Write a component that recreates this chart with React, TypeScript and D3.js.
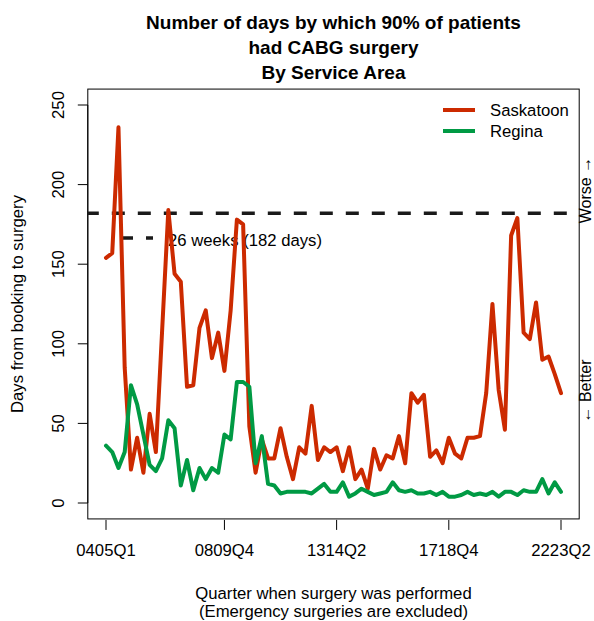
import React, { useEffect, useRef } from 'react';
import * as d3 from 'd3';

// fiscal years 2004/05 .. 2022/23, quarters run up to 2223Q2
const fiscalYears = ['0405', '0506', '0607', '0708', '0809', '0910', '1011', '1112', '1213', '1314',
  '1415', '1516', '1617', '1718', '1819', '1920', '2021', '2122', '2223'];
const quarters = fiscalYears.flatMap(fy => ['Q1', 'Q2', 'Q3', 'Q4'].map(q => fy + q)).slice(0, 74);

const saskatoon = [154, 157, 236, 85, 21, 41, 19, 56, 32, 108,
  184, 144, 139, 73, 74, 110, 121, 91, 107, 83,
  121, 178, 175, 48, 19, 40, 28, 28, 47, 29,
  15, 35, 31, 61, 27, 35, 32, 35, 20, 35,
  15, 21, 9, 34, 21, 30, 28, 42, 25, 69,
  63, 68, 29, 33, 25, 41, 31, 28, 41, 41,
  42, 69, 125, 71, 46, 168, 179, 107, 103, 126,
  90, 92, 81, 69];

const regina = [36, 32, 22, 32, 74, 62, 43, 24, 20, 28,
  52, 47, 11, 27, 8, 22, 15, 22, 19, 43,
  40, 76, 76, 73, 25, 42, 12, 11, 6, 7,
  7, 7, 7, 6, 9, 12, 7, 7, 13, 4,
  6, 9, 7, 5, 6, 7, 13, 8, 7, 8,
  6, 6, 7, 5, 7, 4, 4, 5, 7, 5,
  6, 5, 7, 4, 7, 7, 5, 8, 7, 7,
  15, 6, 13, 7];

const xTickLabels = ['0405Q1', '0809Q4', '1314Q2', '1718Q4', '2223Q2'];
const yTicks = [0, 50, 100, 150, 200, 250];
const target = 182;
const seriesNames = ['Saskatoon', 'Regina'];
const seriesColors = ['#CC2A00', '#009A44'];

const FONT = 'Liberation Sans, Arial, Helvetica, sans-serif';

function App() {
  const ref = useRef<SVGSVGElement>(null);

  useEffect(() => {
    document.body.style.margin = '0';
    drawChart();
  }, []);

  function drawChart() {
    const svg = d3.select(ref.current);
    svg.selectAll('*').remove();

    // scales (R style: 4% padding around data range)
    const x = d3.scalePoint<string>().domain(quarters).range([106, 561]);
    const y = d3.scaleLinear().domain([0, 250]).range([503, 105]);
    const step = x.step();
    const left = x(quarters[0])! - step * 73 * 0.04;
    const right = x(quarters[73])! + step * 73 * 0.04;
    const top = y(260);
    const bottom = y(-10);

    // frame
    svg.append('rect')
      .attr('x', left).attr('y', top)
      .attr('width', right - left).attr('height', bottom - top)
      .attr('fill', 'none').attr('stroke', '#000').attr('stroke-width', 1);

    // y axis
    const ya = svg.append('g');
    ya.append('line')
      .attr('x1', left).attr('x2', left)
      .attr('y1', y(0)).attr('y2', y(250))
      .attr('stroke', '#000');
    yTicks.forEach(t => {
      ya.append('line')
        .attr('x1', left - 10).attr('x2', left)
        .attr('y1', y(t)).attr('y2', y(t))
        .attr('stroke', '#000');
      ya.append('text')
        .attr('transform', `translate(${left - 29},${y(t)}) rotate(-90)`)
        .attr('text-anchor', 'middle')
        .attr('dominant-baseline', 'central')
        .attr('font-family', FONT)
        .attr('font-size', 16.7)
        .text(t);
    });

    // x axis
    const xa = svg.append('g');
    xTickLabels.forEach(lab => {
      xa.append('line')
        .attr('x1', x(lab)!).attr('x2', x(lab)!)
        .attr('y1', bottom + 1).attr('y2', bottom + 11)
        .attr('stroke', '#000');
      xa.append('text')
        .attr('x', x(lab)!).attr('y', 556)
        .attr('text-anchor', 'middle')
        .attr('font-family', FONT)
        .attr('font-size', 16.7)
        .text(lab);
    });

    // target line 26 weeks
    svg.append('line')
      .attr('x1', left).attr('x2', right)
      .attr('y1', y(target)).attr('y2', y(target))
      .attr('stroke', '#1a1a1a')
      .attr('stroke-width', 3.5)
      .attr('stroke-dasharray', '13 13')
      .attr('stroke-dashoffset', 2);

    svg.append('line')
      .attr('x1', 120).attr('x2', 153)
      .attr('y1', 238).attr('y2', 238)
      .attr('stroke', '#1a1a1a')
      .attr('stroke-width', 3.5)
      .attr('stroke-dasharray', '13 13');
    svg.append('text')
      .attr('x', 168).attr('y', 240)
      .attr('dy', '0.35em')
      .attr('font-family', FONT)
      .attr('font-size', 16.7)
      .text('26 weeks (182 days)');

    // series
    const line = d3.line<number>()
      .x((d, i) => x(quarters[i])!)
      .y(d => y(d));

    [saskatoon, regina].forEach((s, k) => {
      svg.append('path')
        .datum(s)
        .attr('fill', 'none')
        .attr('stroke', seriesColors[k])
        .attr('stroke-width', 4)
        .attr('stroke-linejoin', 'round')
        .attr('stroke-linecap', 'round')
        .attr('d', line);
    });

    // legend
    seriesNames.forEach((name, k) => {
      const ly = 110 + k * 21;
      svg.append('line')
        .attr('x1', 443).attr('x2', 475)
        .attr('y1', ly).attr('y2', ly)
        .attr('stroke', seriesColors[k])
        .attr('stroke-width', 4);
      svg.append('text')
        .attr('x', 490).attr('y', ly)
        .attr('dy', '0.35em')
        .attr('font-family', FONT)
        .attr('font-size', 16.7)
        .text(name);
    });

    // titles
    const cx = (left + right) / 2;
    ['Number of days by which 90% of patients', 'had CABG surgery', 'By Service Area'].forEach((t, i) => {
      svg.append('text')
        .attr('x', cx).attr('y', 29 + i * 25)
        .attr('text-anchor', 'middle')
        .attr('font-family', FONT)
        .attr('font-weight', 'bold')
        .attr('font-size', 19)
        .text(t);
    });

    ['Quarter when surgery was performed', '(Emergency surgeries are excluded)'].forEach((t, i) => {
      svg.append('text')
        .attr('x', cx).attr('y', 599 + i * 18)
        .attr('text-anchor', 'middle')
        .attr('font-family', FONT)
        .attr('font-size', 16.7)
        .text(t);
    });

    svg.append('text')
      .attr('transform', `translate(17,${(top + bottom) / 2}) rotate(-90)`)
      .attr('text-anchor', 'middle')
      .attr('dominant-baseline', 'central')
      .attr('font-family', FONT)
      .attr('font-size', 16.7)
      .text('Days from booking to surgery');

    // side annotations
    svg.append('text')
      .attr('transform', `translate(585,190) rotate(-90)`)
      .attr('text-anchor', 'middle')
      .attr('dominant-baseline', 'central')
      .attr('font-family', FONT)
      .attr('font-size', 16)
      .text('Worse \u2192');
    svg.append('text')
      .attr('transform', `translate(585,391) rotate(-90)`)
      .attr('text-anchor', 'middle')
      .attr('dominant-baseline', 'central')
      .attr('font-family', FONT)
      .attr('font-size', 16)
      .text('\u2190 Better');
  }

  return <svg ref={ref} width={594} height={621} style={{ position: 'absolute', left: 0, top: 0, background: '#fff' }} />;
}

export default App;
